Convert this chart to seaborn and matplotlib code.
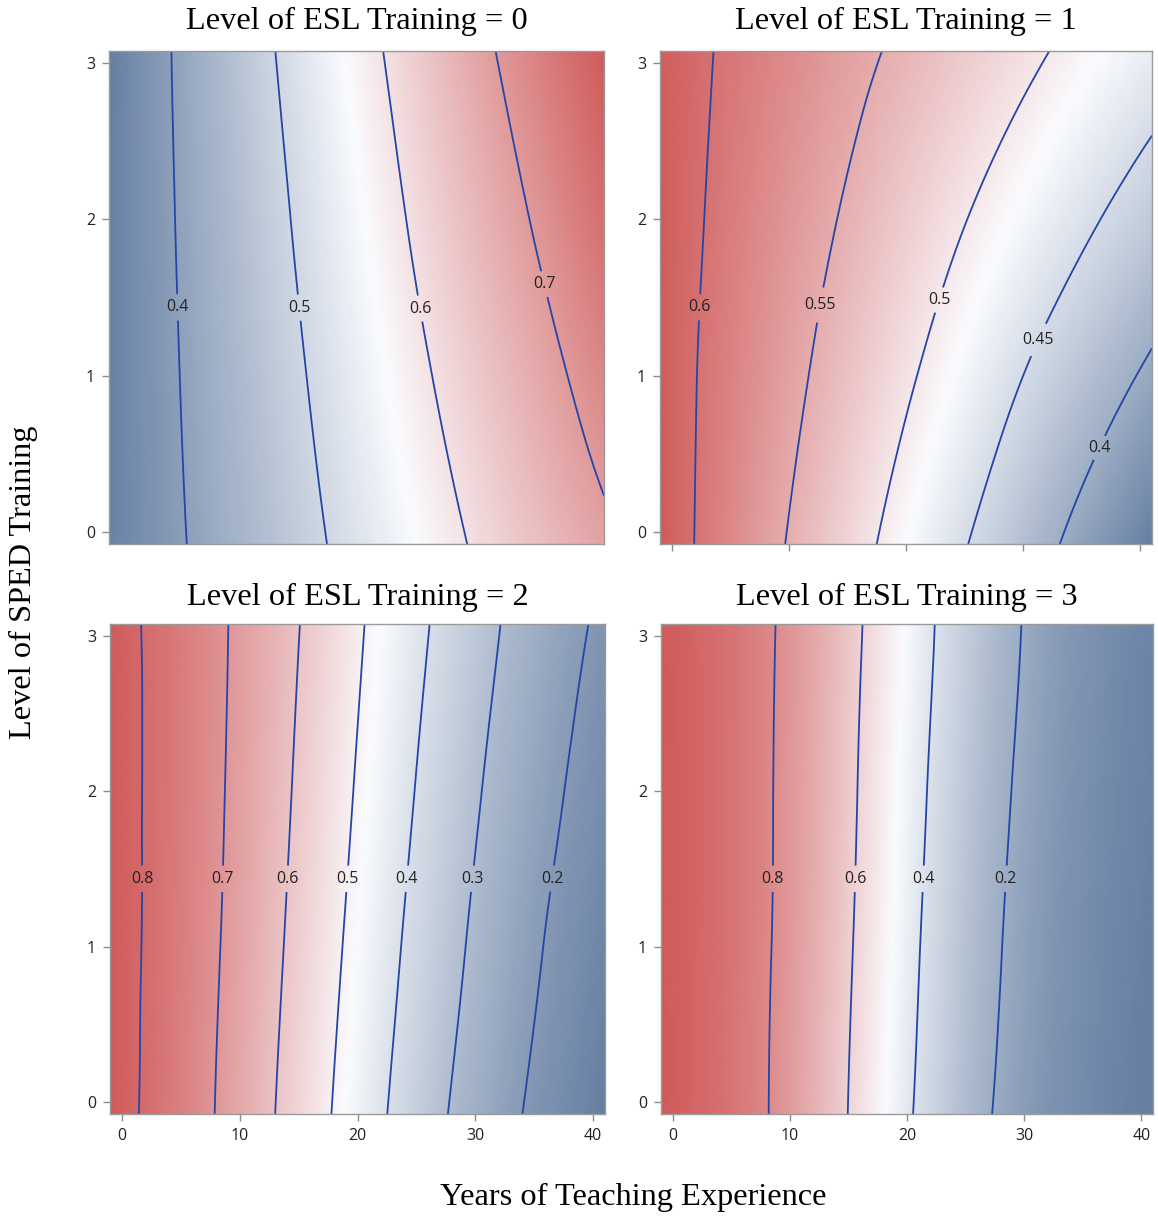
import numpy as np
import matplotlib
matplotlib.use("Agg")
import matplotlib.pyplot as plt
import matplotlib.tri as mtri
import seaborn as sns

# ---------------- data ----------------
# Surface nodes: years of teaching experience (columns) x level of SPED training (rows, bottom -> top)
years = [-1, 5, 10, 15, 20, 25, 30, 35, 41]
sped = [-0.075, 1, 2, 3.075]

esl_titles = ["Level of ESL Training = 0", "Level of ESL Training = 1",
              "Level of ESL Training = 2", "Level of ESL Training = 3"]

prob_esl0 = [
    [0.345, 0.395, 0.437, 0.479, 0.521, 0.563, 0.605, 0.645, 0.688],
    [0.344, 0.400, 0.447, 0.493, 0.540, 0.587, 0.632, 0.675, 0.727],
    [0.343, 0.404, 0.455, 0.506, 0.557, 0.608, 0.657, 0.703, 0.760],
    [0.340, 0.408, 0.465, 0.521, 0.576, 0.629, 0.682, 0.731, 0.789],
]
prob_esl1 = [
    [0.619, 0.580, 0.548, 0.516, 0.484, 0.452, 0.420, 0.388, 0.349],
    [0.617, 0.585, 0.559, 0.532, 0.505, 0.478, 0.450, 0.424, 0.393],
    [0.617, 0.590, 0.568, 0.546, 0.523, 0.501, 0.479, 0.457, 0.431],
    [0.616, 0.595, 0.578, 0.560, 0.543, 0.525, 0.508, 0.490, 0.469],
]
prob_esl2 = [
    [0.833, 0.749, 0.660, 0.559, 0.453, 0.350, 0.260, 0.187, 0.121],
    [0.833, 0.754, 0.671, 0.575, 0.474, 0.375, 0.286, 0.210, 0.140],
    [0.832, 0.757, 0.679, 0.589, 0.493, 0.397, 0.309, 0.233, 0.160],
    [0.830, 0.759, 0.685, 0.602, 0.511, 0.420, 0.334, 0.258, 0.183],
]
prob_esl3 = [
    [0.938, 0.864, 0.754, 0.598, 0.418, 0.258, 0.144, 0.076, 0.033],
    [0.937, 0.866, 0.762, 0.613, 0.439, 0.279, 0.161, 0.087, 0.039],
    [0.937, 0.867, 0.767, 0.625, 0.457, 0.299, 0.177, 0.098, 0.046],
    [0.936, 0.868, 0.773, 0.638, 0.476, 0.320, 0.195, 0.111, 0.054],
]

levels_esl0 = [0.4, 0.5, 0.6, 0.7]
levels_esl1 = [0.4, 0.45, 0.5, 0.55, 0.6]
levels_esl2 = [0.2, 0.3, 0.4, 0.5, 0.6, 0.7, 0.8]
levels_esl3 = [0.2, 0.4, 0.6, 0.8]

x_ticks = [0, 10, 20, 30, 40]
y_ticks = [0, 1, 2, 3]

# ---------------- style ----------------
sns.set_theme(style="white")
plt.rcParams["font.family"] = ["Open Sans", "DejaVu Sans"]
serif = ["Liberation Serif", "DejaVu Serif"]

cmap = sns.blend_palette(["#667FA2", "#FAFBFE", "#D05B5B"], as_cmap=True)
line_color = "#2445A8"
frame_color = "#9A9A9A"

W, H = 1158, 1218
fig = plt.figure(figsize=(W / 100, H / 100), dpi=100)

# axes rectangles in pixels: (left, top, right, bottom)
boxes = [(109, 51, 604, 544), (660, 51, 1152, 544),
         (110, 624, 605, 1114), (661, 624, 1153, 1114)]
title_y = [21, 21, 597, 597]

panels = [prob_esl0, prob_esl1, prob_esl2, prob_esl3]
panel_levels = [levels_esl0, levels_esl1, levels_esl2, levels_esl3]

xlim = (years[0], years[-1])
ylim = (sped[0], sped[-1])

for k, (box, prob, levs) in enumerate(zip(boxes, panels, panel_levels)):
    l, t, r, b = box
    ax = fig.add_axes([l / W, 1 - b / H, (r - l) / W, (b - t) / H])

    X, Y = np.meshgrid(np.asarray(years, float), np.asarray(sped, float))
    Z = np.asarray(prob, float).ravel()
    # triangulate in roughly isotropic units, then let matplotlib smooth the field
    sx = 10.0
    tri_n = mtri.Triangulation(X.ravel() / sx, Y.ravel())
    interp = mtri.CubicTriInterpolator(tri_n, Z, kind="min_E")
    refiner = mtri.UniformTriRefiner(tri_n)
    tri_r, z_r = refiner.refine_field(Z, triinterpolator=interp, subdiv=4)
    tri_f = mtri.Triangulation(tri_r.x * sx, tri_r.y, tri_r.triangles)

    ax.tripcolor(tri_f, z_r, cmap=cmap, shading="gouraud",
                 vmin=Z.min(), vmax=Z.max(), rasterized=True)
    cs = ax.tricontour(tri_f, z_r, levels=levs, colors=line_color, linewidths=1.3)

    ax.set_xlim(*xlim)
    ax.set_ylim(*ylim)

    # label each contour near the middle of its length
    pxx = (r - l) / (xlim[1] - xlim[0])
    pxy = (b - t) / (ylim[1] - ylim[0])
    positions = []
    for path in cs.get_paths():
        verts = np.asarray(path.vertices)
        if len(verts) < 2:
            continue
        codes = path.codes
        if codes is None:
            segs = [verts]
        else:
            starts = np.where(codes == 1)[0]
            segs = np.split(verts, starts[1:]) if len(starts) else [verts]
        for seg in segs:
            if len(seg) < 2:
                continue
            if seg[0, 1] > seg[-1, 1]:
                seg = seg[::-1]
            d = np.r_[0, np.cumsum(np.hypot(np.diff(seg[:, 0]) * pxx, np.diff(seg[:, 1]) * pxy))]
            target = d[-1] * 0.48
            px = np.interp(target, d, seg[:, 0])
            py = np.interp(target, d, seg[:, 1])
            positions.append((px, py))
    labels = ax.clabel(cs, fmt=lambda v: f"{v:g}", fontsize=11.5, inline=True,
                       inline_spacing=2, colors="#222222", manual=positions)
    for txt in labels:
        txt.set_rotation(0)

    ax.set_yticks(y_ticks)
    ax.set_xticks(x_ticks)
    ax.tick_params(axis="both", direction="out", length=5, width=1, color="#8A8A8A",
                   labelsize=11.5, labelcolor="#222222", pad=5, left=True, bottom=True)
    if k == 0:
        ax.tick_params(axis="x", bottom=False, labelbottom=False)
    elif k == 1:
        ax.tick_params(axis="x", labelbottom=False)
    for sp in ax.spines.values():
        sp.set_color(frame_color)
        sp.set_linewidth(1.0)
    ax.grid(False)

    fig.text((l + r) / 2 / W, 1 - title_y[k] / H, esl_titles[k], ha="center", va="center",
             fontsize=23.3, family=serif, color="black")

fig.text(23 / W, 1 - 582 / H, "Level of SPED Training", rotation=90, ha="center",
         va="center", fontsize=23.3, family=serif, color="black")
fig.text(633 / W, 1 - 1197 / H, "Years of Teaching Experience", ha="center",
         va="center", fontsize=23.3, family=serif, color="black")

fig.savefig("out.png", dpi=100)
